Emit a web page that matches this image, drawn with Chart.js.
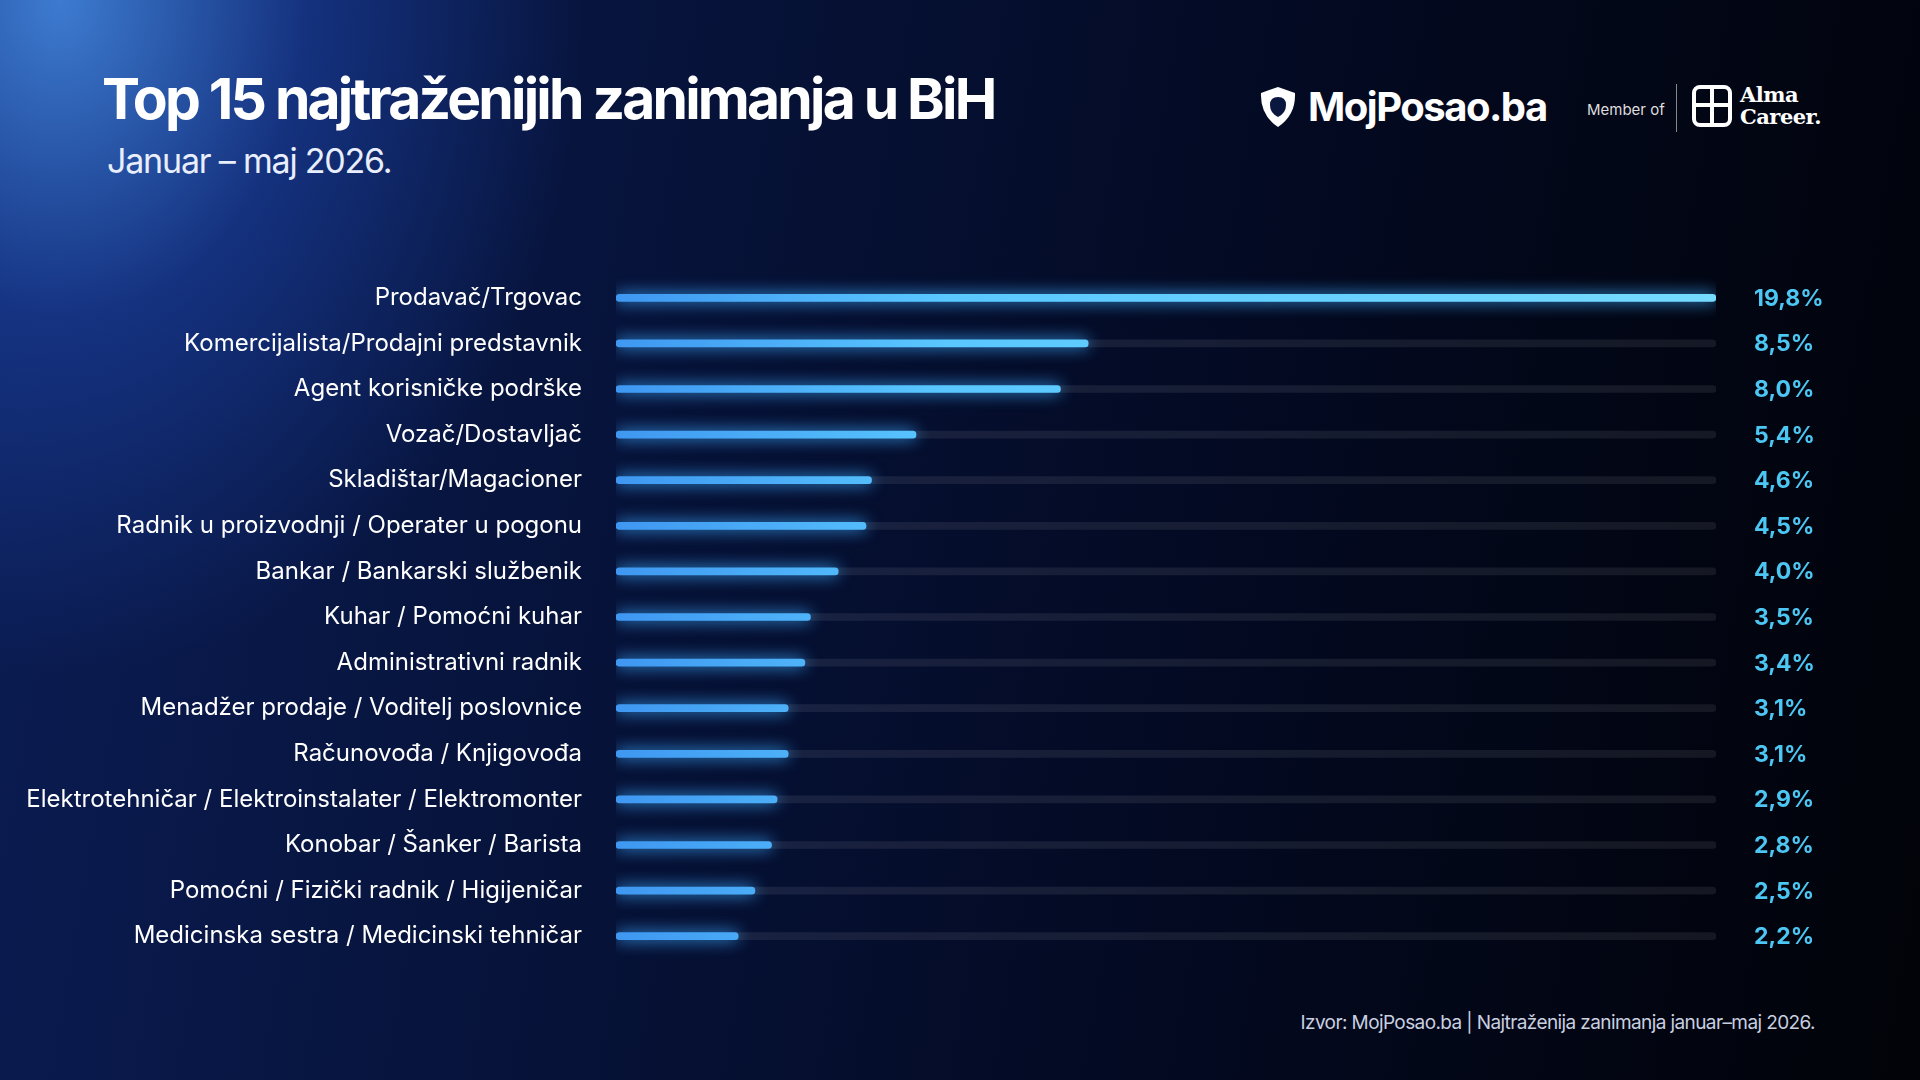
<!DOCTYPE html>
<html><head><meta charset="utf-8">
<script src="https://cdn.jsdelivr.net/npm/chart.js@4"></script>
<style>
html,body{margin:0;padding:0;width:1920px;height:1080px;overflow:hidden;font-family:Inter,"Noto Sans",sans-serif;}
body{background:
 radial-gradient(ellipse 700px 900px at 60px 0px, rgba(70,140,230,0.85) 0%, rgba(30,70,170,0.55) 35%, rgba(10,25,80,0) 75%),
 linear-gradient(100deg,#0b1d55 0%,#061238 35%,#030920 65%,#010308 100%);position:relative;color:#fff;}
#title{position:absolute;left:102px;top:64px;font-size:57px;font-weight:700;letter-spacing:-2.8px;}
#sub{position:absolute;left:107px;top:140px;font-size:34px;font-weight:400;letter-spacing:-1.2px;color:#e8eefc;}
#foot{position:absolute;right:105px;top:1011px;font-size:19px;color:#c9d0e0;letter-spacing:-0.6px;}
#logo{position:absolute;left:1258px;top:82px;display:flex;align-items:center;gap:10px;font-size:40px;font-weight:700;letter-spacing:-1.5px;}
#member{position:absolute;left:1587px;top:100px;font-size:15px;color:#ddd;}
#sep{position:absolute;left:1676px;top:84px;width:1px;height:48px;background:#888;}
#alma{position:absolute;left:1692px;top:84px;display:flex;align-items:center;gap:8px;font-family:"DejaVu Serif",serif;font-weight:700;font-size:21px;line-height:22px;letter-spacing:-0.5px;}
#c{position:absolute;left:0;top:275px;width:1920px;height:684px;}
</style></head><body>
<div id="title">Top 15 najtraženijih zanimanja u BiH</div>
<div id="sub">Januar – maj 2026.</div>
<div id="logo"><svg width="40" height="44" viewBox="0 0 40 44"><path d="M20 2 L37 8 Q38 30 20 42 Q2 30 3 8 Z" fill="#fff"/><path d="M20 12 Q28 12 28 20 Q28 28 20 32 Q12 28 12 20 Q12 12 20 12Z" fill="#0a1840"/></svg><span>MojPosao.ba</span></div>
<div id="member">Member of</div><div id="sep"></div>
<div id="alma"><svg width="40" height="42" viewBox="0 0 40 42"><rect x="2" y="2" width="36" height="38" rx="6" fill="none" stroke="#fff" stroke-width="4"/><path d="M20 4 V38 M4 20 H36" stroke="#fff" stroke-width="4"/></svg><div>Alma<br>Career.</div></div>
<div id="foot">Izvor: MojPosao.ba | Najtraženija zanimanja januar–maj 2026.</div>
<div id="c"><canvas id="cv"></canvas></div>
<script>
const categories=["Prodavač/Trgovac","Komercijalista/Prodajni predstavnik","Agent korisničke podrške","Vozač/Dostavljač","Skladištar/Magacioner","Radnik u proizvodnji / Operater u pogonu","Bankar / Bankarski službenik","Kuhar / Pomoćni kuhar","Administrativni radnik","Menadžer prodaje / Voditelj poslovnice","Računovođa / Knjigovođa","Elektrotehničar / Elektroinstalater / Elektromonter","Konobar / Šanker / Barista","Pomoćni / Fizički radnik / Higijeničar","Medicinska sestra / Medicinski tehničar"];
const values=[19.8,8.5,8.0,5.4,4.6,4.5,4.0,3.5,3.4,3.1,3.1,2.9,2.8,2.5,2.2];
const valueLabels=["19,8%","8,5%","8,0%","5,4%","4,6%","4,5%","4,0%","3,5%","3,4%","3,1%","3,1%","2,9%","2,8%","2,5%","2,2%"];
const maxValue=19.8;
const track=categories.map(()=>maxValue);
const ctx=document.getElementById('cv').getContext('2d');
const grad=ctx.createLinearGradient(616,0,1716,0);
grad.addColorStop(0,'#2f8ff0');grad.addColorStop(0.3,'#4cc3ff');grad.addColorStop(1,'#6ad8ff');
const glow={id:'glow',beforeDatasetDraw(ch,a){if(a.index===1){ch.ctx.save();ch.ctx.shadowColor='rgba(60,170,255,1)';ch.ctx.shadowBlur=16;}},
 afterDatasetDraw(ch,a){if(a.index===1)ch.ctx.restore();}};
const vals={id:'vals',afterDraw(ch){const c=ch.ctx,y=ch.scales.y;c.save();c.fillStyle='#4cc6f2';c.font='700 23px Inter';c.textBaseline='middle';
 valueLabels.forEach((t,i)=>c.fillText(t,1754,y.getPixelForValue(i)+1));c.restore();}};
new Chart(ctx,{type:'bar',data:{labels:categories,datasets:[
 {data:track,backgroundColor:'rgba(255,255,255,0.08)',barThickness:7,borderRadius:4,borderSkipped:false,grouped:false},
 {data:values,backgroundColor:grad,barThickness:7,borderRadius:4,borderSkipped:false,grouped:false}]},
 options:{indexAxis:'y',responsive:true,maintainAspectRatio:false,animation:false,layout:{padding:{left:0,right:204,top:0,bottom:0}},
 plugins:{legend:{display:false},tooltip:{enabled:false}},
 scales:{x:{display:false,min:0,max:maxValue},
  y:{grid:{display:false},border:{display:false},afterFit(s){s.width=616;s.paddingTop=0;s.paddingBottom=0;},
   ticks:{color:'#fff',padding:26,autoSkip:false,font:{family:'Inter',size:24}}}}},
 plugins:[glow,vals]});
</script></body></html>
